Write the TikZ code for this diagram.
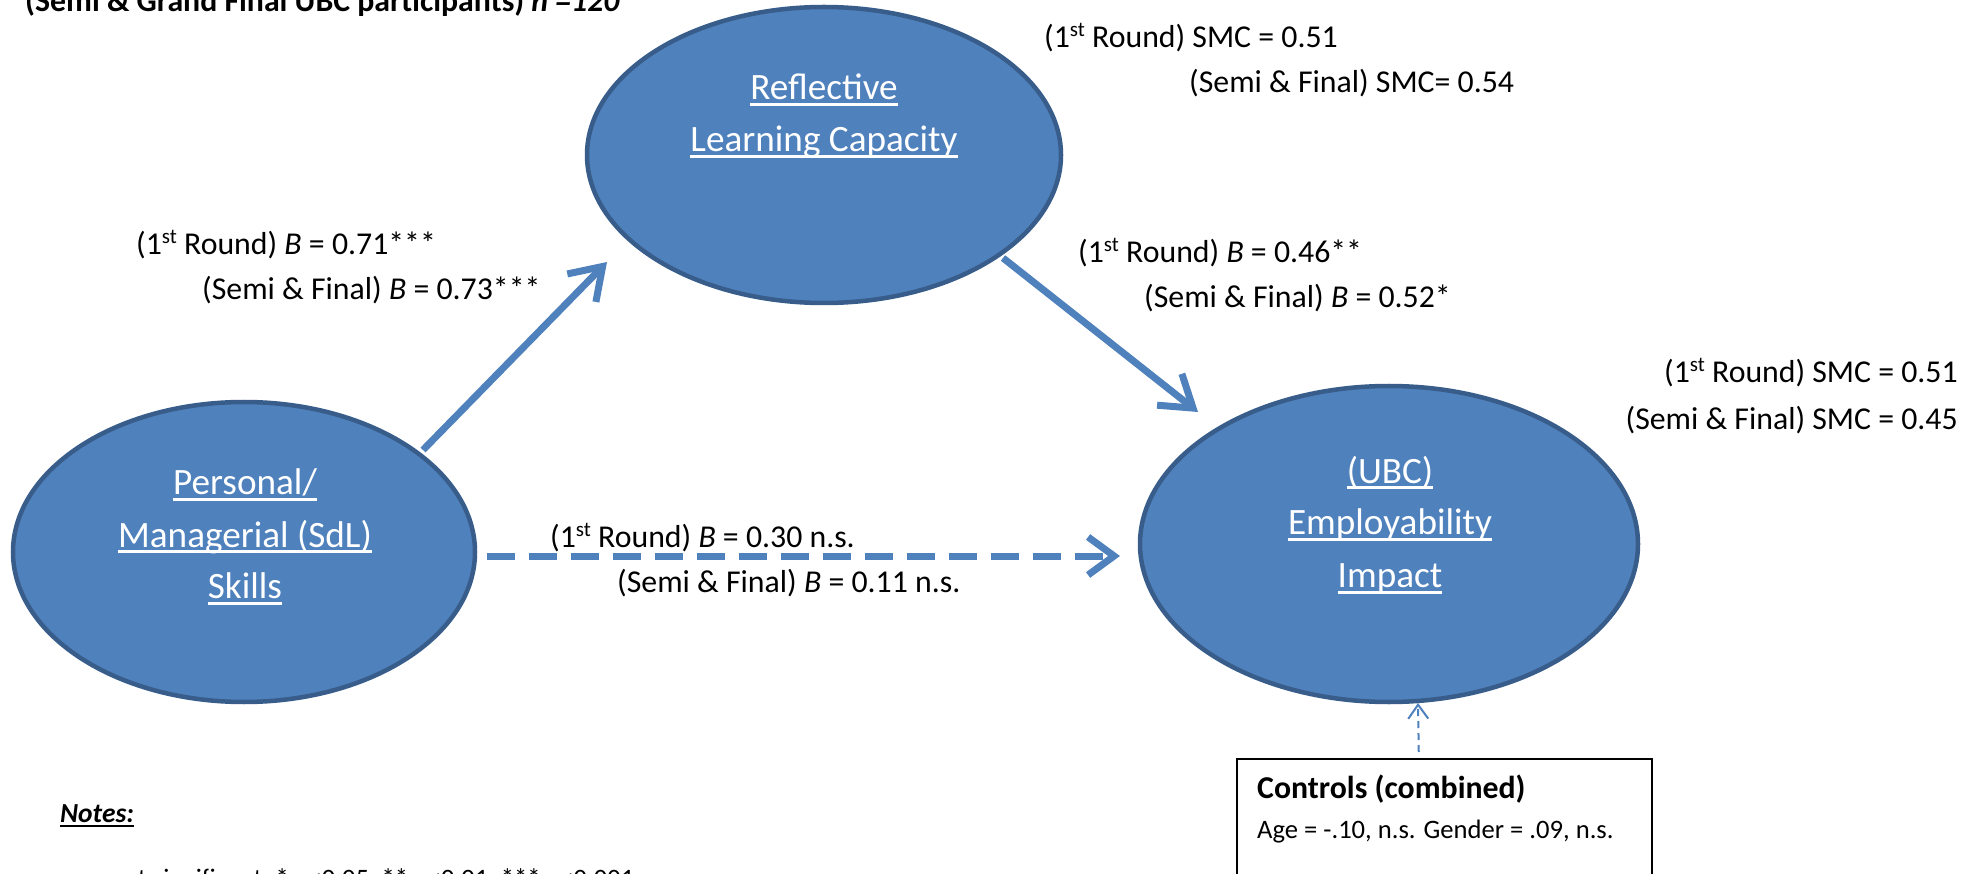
\documentclass[tikz,border=0pt]{standalone}
\usepackage{fontspec}
\setmainfont{Carlito}
\usetikzlibrary{arrows.meta,shapes.geometric,calc}
\definecolor{ellfill}{HTML}{4F81BD}
\definecolor{elldraw}{HTML}{385D8A}
\definecolor{arrblue}{HTML}{4F81BD}
\newcommand\ulx[1]{\setbox0=\hbox{#1}\rlap{\rule[-6.5pt]{\wd0}{3pt}}\box0}
\newcommand\ulnote[1]{\setbox0=\hbox{#1}\rlap{\rule[-5pt]{\wd0}{2.2pt}}\box0}
\newcommand\sups[1]{\raisebox{11pt}{\fontsize{21}{21}\selectfont #1}}
\begin{document}
\begin{tikzpicture}[x=1pt,y=-1pt,
  ell/.style={ellipse,draw=elldraw,fill=ellfill,line width=4.5pt,inner sep=0pt},
  elltext/.style={anchor=base,text=white,font=\fontsize{37.2}{44}\selectfont,inner sep=0pt},
  lbl/.style={anchor=base west,font=\fontsize{31.8}{38}\selectfont,inner sep=0pt},
  lblr/.style={anchor=base east,font=\fontsize{31.8}{38}\selectfont,inner sep=0pt},
  smalltxt/.style={anchor=base west,font=\fontsize{26.6}{32}\selectfont,inner sep=0pt},
  solidarr/.style={draw=arrblue,line width=7pt,-{Straight Barb[length=30pt,width=40pt]}},
  dasharr/.style={draw=arrblue,line width=7pt,dash pattern=on 28pt off 14pt,-{Straight Barb[length=26pt,width=38pt]}},
  thinarr/.style={draw=arrblue,line width=2pt,dash pattern=on 7pt off 5pt,-{Straight Barb[length=14pt,width=20pt]}},
  boxstyle/.style={draw=black,line width=1.5pt,fill=white,inner sep=0pt,minimum width=415pt,minimum height=142pt,anchor=north west}
]
\useasboundingbox (0,0) rectangle (1982,874);
\clip (0,0) rectangle (1982,874);
\fill[white] (0,0) rectangle (1982,874);

% title (cut off at top)
\node[anchor=base west,inner sep=0pt,font=\fontsize{31.8}{38}\selectfont\bfseries] (title) at (25,12)
  {(Semi \& Grand Final UBC participants) \textit{n =120}};

% ellipses
\node[ell,minimum width=462pt,minimum height=300pt] (pers) at (244,552) {};
\node[ell,minimum width=474pt,minimum height=296pt] (refl) at (824,155) {};
\node[ell,minimum width=498pt,minimum height=316pt] (ubc) at (1389,544) {};

% ellipse texts
\node[elltext] (pers1) at (245,494) {\ulx{Personal/}};
\node[elltext] (pers2) at (245,547) {\ulx{Managerial (SdL)}};
\node[elltext] (pers3) at (245,598) {\ulx{Skills}};
\node[elltext] (refl1) at (824,100) {\ulx{Reflective}};
\node[elltext] (refl2) at (824,152) {\ulx{Learning Capacity}};
\node[elltext] (ubc1) at (1390,483) {\ulx{(UBC)}};
\node[elltext] (ubc2) at (1390,534) {\ulx{Employability}};
\node[elltext] (ubc3) at (1390,587) {\ulx{Impact}};

% connectors
\draw[solidarr] ([shift={(179,-102)}]pers.center) -- ([shift={(-217,107)}]refl.center);
\draw[solidarr] ([shift={(179,103)}]refl.center) -- ([shift={(-191,-132)}]ubc.center);
\draw[dasharr] ([shift={(243,4)}]pers.center) -- ([shift={(-269,12)}]ubc.center);

% path labels
\node[lbl] (l1) at (136,255) {(1\sups{st} Round) \textit{B} = 0.71***};
\node[lbl] (l2) at (202,300) {(Semi \& Final) \textit{B} = 0.73***};
\node[lbl] (m1) at (1078,263) {(1\sups{st} Round) \textit{B} = 0.46**};
\node[lbl] (m2) at (1144,308) {(Semi \& Final) \textit{B} = 0.52*};
\node[lbl] (d1) at (550,547) {(1\sups{st} Round) \textit{B} = 0.30 n.s.};
\node[lbl] (d2) at (617,592) {(Semi \& Final) \textit{B} = 0.11 n.s.};

% SMC labels
\node[lbl] (s1) at (1044,48) {(1\sups{st} Round) SMC = 0.51};
\node[lbl] (s2) at (1189,93) {(Semi \& Final) SMC= 0.54};
\node[lblr] (s3) at (1958,383) {(1\sups{st} Round) SMC = 0.51};
\node[lblr] (s4) at (1958,430) {(Semi \& Final) SMC = 0.45};

% controls box
\node[boxstyle] (ctrl) at (1236,758) {};
\node[anchor=base west,inner sep=0pt,font=\fontsize{31.8}{38}\selectfont\bfseries] (ctrlt) at (1257,798) {Controls (combined)};
\node[smalltxt] (ctrlb) at (1257,838) {Age = -.10, n.s. Gender = .09, n.s.};
\draw[thinarr] ([shift={(-25.5,-6)}]ctrl.north) -- ([shift={(29,159)}]ubc.center);

% notes
\node[anchor=base west,inner sep=0pt,font=\fontsize{27.5}{33}\selectfont\bfseries\itshape] (notes) at (60,822) {\ulnote{Notes:}};
\node[smalltxt] (notes2) at (64,887) {n.s. not significant; * \textit{p}<0.05, ** \textit{p}<0.01, *** \textit{p}<0.001};
\end{tikzpicture}
\end{document}
